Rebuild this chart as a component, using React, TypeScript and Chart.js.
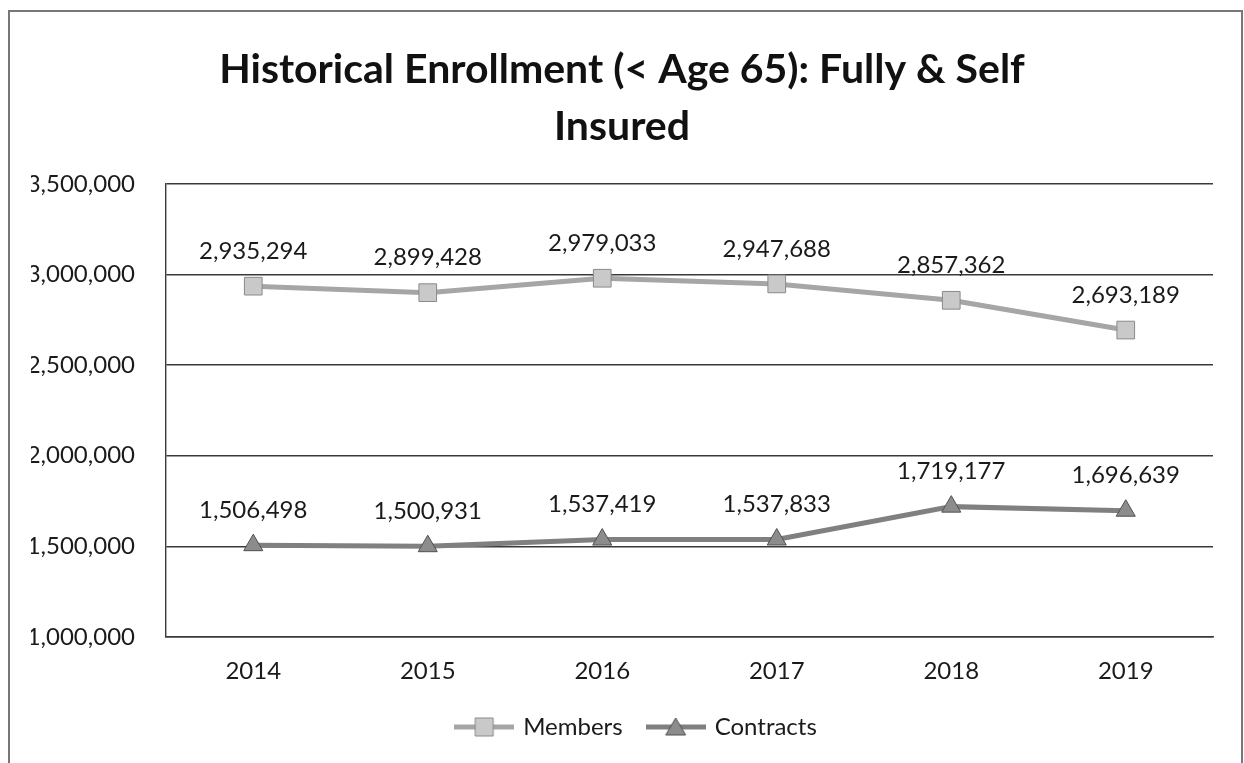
import React, { useEffect, useRef } from "react";
import { Chart, registerables } from "chart.js";

Chart.register(...registerables);

const years = ["2014", "2015", "2016", "2017", "2018", "2019"];
const members = [2935294, 2899428, 2979033, 2947688, 2857362, 2693189];
const contracts = [1506498, 1500931, 1537419, 1537833, 1719177, 1696639];
const yTicks = [1000000, 1500000, 2000000, 2500000, 3000000, 3500000];
const titleLines = ["Historical Enrollment (< Age 65): Fully & Self", "Insured"];
const seriesNames = ["Members", "Contracts"];

const FONT = "Lato, 'Open Sans', sans-serif";
const fmt = (v: number) => v.toLocaleString("en-US");

function makeLegendSymbol(kind: "rect" | "triangle", line: string, fill: string, stroke: string) {
  const c = document.createElement("canvas");
  c.width = 60;
  c.height = 24;
  const ctx = c.getContext("2d")!;
  ctx.strokeStyle = line;
  ctx.lineWidth = 5;
  ctx.beginPath();
  ctx.moveTo(0, 12);
  ctx.lineTo(60, 12);
  ctx.stroke();
  ctx.fillStyle = fill;
  ctx.strokeStyle = stroke;
  ctx.lineWidth = 1;
  ctx.beginPath();
  if (kind === "rect") {
    ctx.rect(21, 3, 18, 18);
  } else {
    ctx.moveTo(30, 3);
    ctx.lineTo(40, 20);
    ctx.lineTo(20, 20);
    ctx.closePath();
  }
  ctx.fill();
  ctx.stroke();
  return c;
}

const dataLabels = {
  id: "dataLabels",
  afterDatasetsDraw(chart: any) {
    const ctx = chart.ctx;
    ctx.save();
    ctx.font = `24px ${FONT}`;
    ctx.fillStyle = "#1a1a1a";
    ctx.textAlign = "center";
    ctx.textBaseline = "middle";
    chart.data.datasets.forEach((ds: any, i: number) => {
      const meta = chart.getDatasetMeta(i);
      meta.data.forEach((pt: any, j: number) => {
        ctx.fillText(fmt(ds.data[j]), pt.x, pt.y - 35);
      });
    });
    ctx.restore();
  },
};

const legendShift = {
  id: "legendShift",
  afterLayout(chart: any) {
    if (chart.legend) {
      chart.legend.left += 15;
      chart.legend.right += 15;
    }
  },
};

export default function App() {
  const ref = useRef<HTMLCanvasElement>(null);

  useEffect(() => {
    const membersSym = makeLegendSymbol("rect", "#a6a6a6", "#c9c9c9", "#8a8a8a");
    const contractsSym = makeLegendSymbol("triangle", "#808080", "#8c8c8c", "#505050");
    const chart = new Chart(ref.current!, {
      type: "line",
      data: {
        labels: years,
        datasets: [
          {
            label: seriesNames[0],
            data: members,
            borderColor: "#a6a6a6",
            borderWidth: 5,
            pointStyle: "rect",
            pointRadius: 12.5,
            pointBackgroundColor: "#c9c9c9",
            pointBorderColor: "#8a8a8a",
            pointBorderWidth: 1,
            tension: 0,
          },
          {
            label: seriesNames[1],
            data: contracts,
            borderColor: "#808080",
            borderWidth: 5,
            pointStyle: "triangle",
            pointRadius: 11,
            pointBackgroundColor: "#8c8c8c",
            pointBorderColor: "#505050",
            pointBorderWidth: 1,
            tension: 0,
          },
        ],
      },
      options: {
        responsive: false,
        animation: false,
        layout: { padding: { left: 31, right: 31, top: 0, bottom: 14 } },
        plugins: {
          tooltip: { enabled: false },
          title: {
            display: true,
            text: titleLines,
            color: "#111",
            font: { family: FONT, size: 41, weight: "bold", lineHeight: 1.4 },
            padding: { top: 41, bottom: 28 },
          },
          legend: {
            position: "bottom",
            labels: {
              usePointStyle: true,
              pointStyleWidth: 54,
              padding: 26,
              color: "#1a1a1a",
              font: { family: FONT, size: 24 },
              generateLabels: (ch: any) => {
                const items = Chart.defaults.plugins.legend.labels.generateLabels(ch);
                return items.map((it: any, i: number) => ({
                  ...it,
                  pointStyle: i === 0 ? membersSym : contractsSym,
                }));
              },
            },
          },
        },
        scales: {
          x: {
            offset: true,
            grid: { display: false, drawTicks: false, offset: true },
            border: { display: true, color: "#3a3a3a", width: 1.4 },
            ticks: { color: "#1a1a1a", font: { family: FONT, size: 24 }, padding: 20 },
            afterFit: (s: any) => {
              s.height = 52;
            },
          },
          y: {
            min: 1000000,
            max: 3500000,
            afterBuildTicks: (s: any) => {
              s.ticks = yTicks.map((v) => ({ value: v }));
            },
            grid: { color: "#3a3a3a", lineWidth: 1.4, drawTicks: false },
            border: { display: true, color: "#3a3a3a", width: 1.4 },
            ticks: {
              color: "#1a1a1a",
              font: { family: FONT, size: 24 },
              padding: 31,
              callback: (v: any) => fmt(Number(v)),
            },
            afterFit: (s: any) => {
              s.width = 135;
            },
          },
        },
      },
      plugins: [dataLabels, legendShift],
    });
    return () => chart.destroy();
  }, []);

  return (
    <div style={{ position: "fixed", left: 0, top: 0, width: 1244, height: 763, background: "#fff" }}>
      <canvas ref={ref} width={1244} height={763} style={{ position: "absolute", left: 0, top: 0 }} />
      <div
        style={{
          position: "absolute",
          left: 8,
          top: 10,
          width: 1231,
          height: 800,
          borderLeft: "2px solid #777",
          borderTop: "2px solid #777",
          borderRight: "2px solid #777",
          pointerEvents: "none",
        }}
      />
    </div>
  );
}
